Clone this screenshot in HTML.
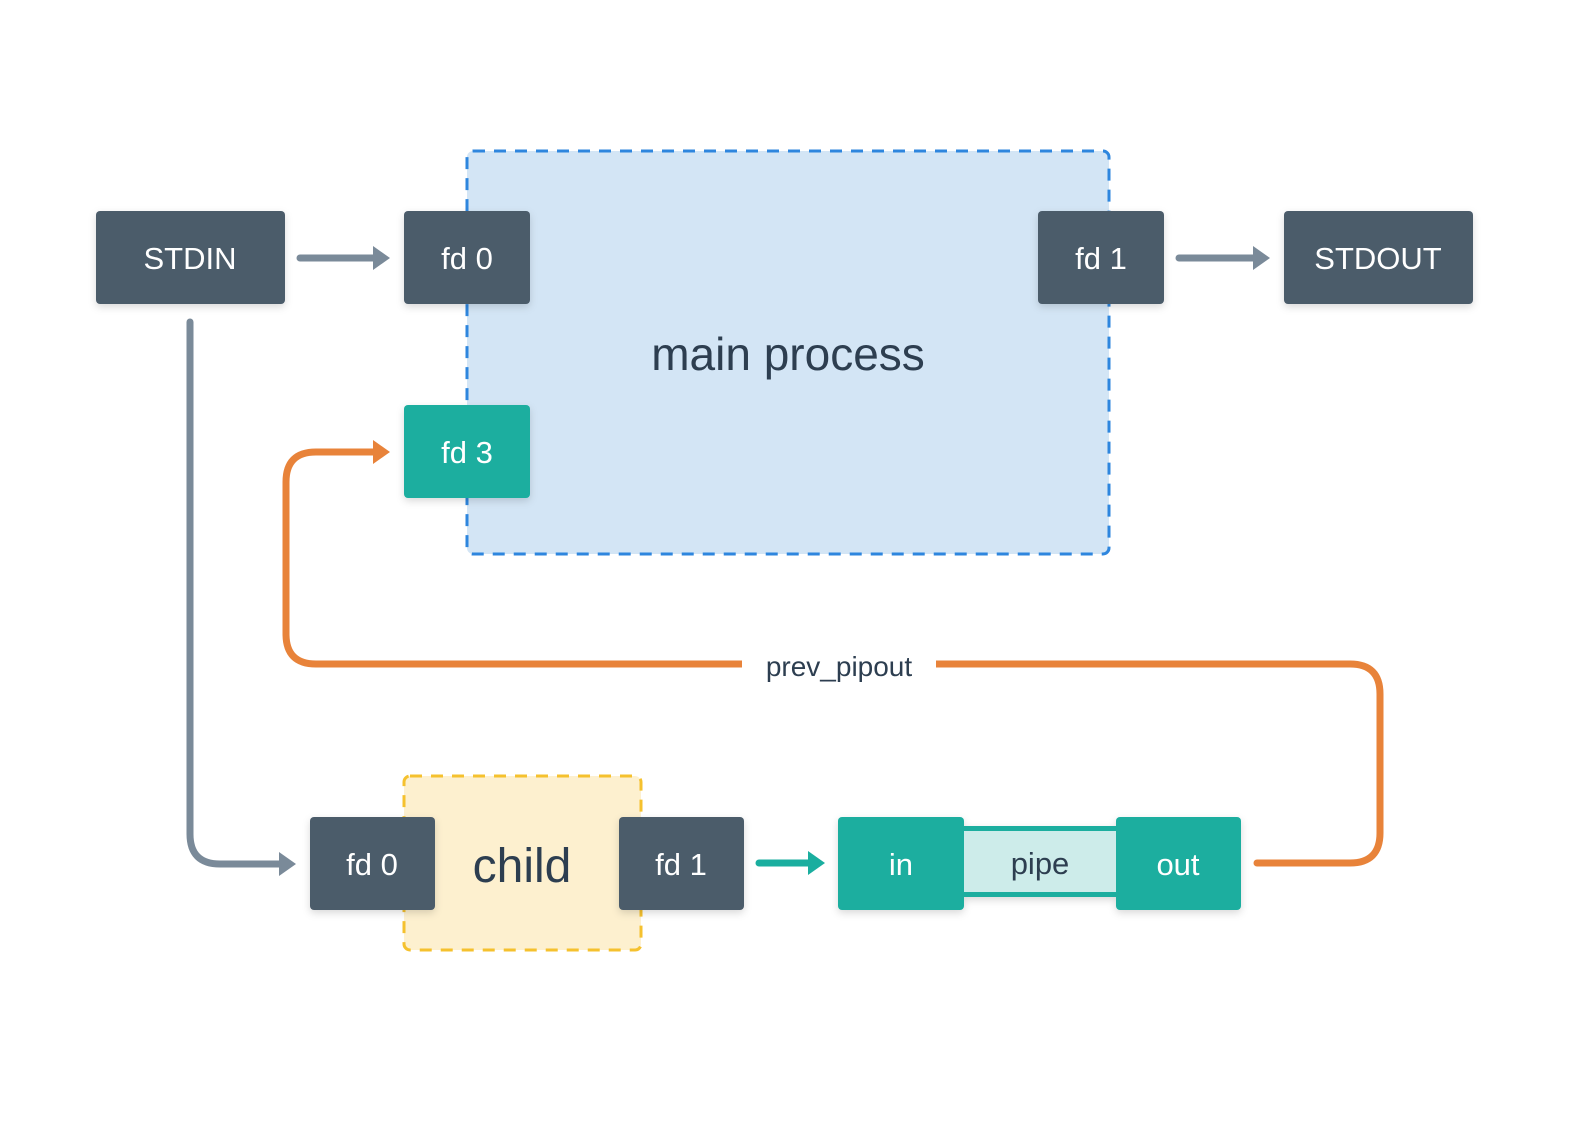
<!DOCTYPE html>
<html><head><style>body{margin:0;background:#fff}svg{display:block}text{font-family:"Liberation Sans",sans-serif}</style></head><body>
<svg width="1584" height="1128" viewBox="0 0 1584 1128" xmlns="http://www.w3.org/2000/svg">
<defs><filter id="sh" x="-20%" y="-20%" width="140%" height="150%"><feDropShadow dx="0" dy="3" stdDeviation="4" flood-color="#000" flood-opacity="0.15"/></filter></defs>
<rect x="467" y="151" width="642" height="403" rx="6" fill="#d3e5f5" stroke="#2e86de" stroke-width="3" stroke-dasharray="12,9"/>
<text x="788" y="370" font-size="46" fill="#2d3e50" text-anchor="middle">main process</text>
<rect x="404" y="776" width="237" height="174" rx="6" fill="#fdf0cf" stroke="#f5c12e" stroke-width="3" stroke-dasharray="12,9"/>
<text x="522" y="882" font-size="48" fill="#2d3e50" text-anchor="middle">child</text>
<g fill="none" stroke-width="7" stroke-linecap="round">
<path d="M300 258H375" stroke="#7a8a99"/>
<path d="M1179 258H1255" stroke="#7a8a99"/>
<path d="M190 322V834Q190 864 220 864H280" stroke="#7a8a99"/>
<path d="M759 863H810" stroke="#1aae9f"/>
<path d="M1257 863H1350Q1380 863 1380 833V694Q1380 664 1350 664H316Q286 664 286 634V482Q286 452 316 452H375" stroke="#e8833a"/>
</g>
<path d="M373 246L390 258L373 270Z" fill="#7a8a99"/>
<path d="M1253 246L1270 258L1253 270Z" fill="#7a8a99"/>
<path d="M279 852L296 864L279 876Z" fill="#7a8a99"/>
<path d="M808 851L825 863L808 875Z" fill="#1aae9f"/>
<path d="M373 440L390 452L373 464Z" fill="#e8833a"/>
<rect x="742" y="648" width="194" height="34" fill="#fff"/>
<text x="839" y="676" font-size="28" fill="#2d3e50" text-anchor="middle">prev_pipout</text>
<g filter="url(#sh)">
<rect x="96" y="211" width="189" height="93" rx="4" fill="#4b5b6b"/>
<rect x="404" y="211" width="126" height="93" rx="4" fill="#4b5b6b"/>
<rect x="1038" y="211" width="126" height="93" rx="4" fill="#4b5b6b"/>
<rect x="1284" y="211" width="189" height="93" rx="4" fill="#4b5b6b"/>
<rect x="404" y="405" width="126" height="93" rx="4" fill="#1aae9f"/>
<rect x="310" y="817" width="125" height="93" rx="4" fill="#4b5b6b"/>
<rect x="619" y="817" width="125" height="93" rx="4" fill="#4b5b6b"/>
<rect x="962" y="826" width="156" height="71" fill="#1aae9f"/>
<rect x="838" y="817" width="126" height="93" rx="4" fill="#1aae9f"/>
<rect x="1116" y="817" width="125" height="93" rx="4" fill="#1aae9f"/>
</g>
<rect x="964" y="831" width="152" height="61" fill="#cdecea"/>
<g font-size="31" fill="#fff" text-anchor="middle">
<text x="190" y="269">STDIN</text>
<text x="467" y="269">fd 0</text>
<text x="1101" y="269">fd 1</text>
<text x="1378" y="269">STDOUT</text>
<text x="467" y="463">fd 3</text>
<text x="372" y="875">fd 0</text>
<text x="681" y="875">fd 1</text>
<text x="901" y="875">in</text>
<text x="1178" y="875">out</text>
<text x="1040" y="874" fill="#2d3e50">pipe</text>
</g>
</svg>
</body></html>
